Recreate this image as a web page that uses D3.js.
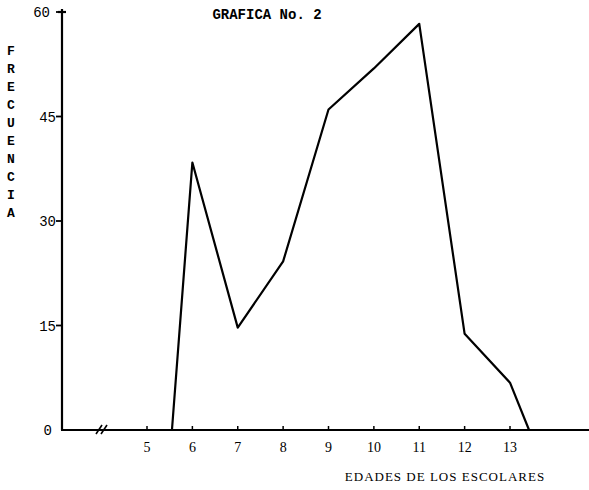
<!DOCTYPE html>
<html><head><meta charset="utf-8">
<script src="https://cdn.jsdelivr.net/npm/d3@7"></script>
<style>
html,body{margin:0;padding:0;background:#fff;}
svg{display:block;}
</style></head>
<body>
<script>
const ages = [5.55, 6, 7, 8, 9, 10, 11, 12, 13, 13.42];
const freq = [0, 38.4, 14.7, 24.2, 46, 51.9, 58.3, 13.8, 6.8, 0];
const xTicks = [5, 6, 7, 8, 9, 10, 11, 12, 13];
const yTicks = [0, 15, 30, 45, 60];
const yTitle = "FRECUENCIA";
const title = "GRAFICA No. 2";
const xTitle = "EDADES DE LOS ESCOLARES";

const W = 589, H = 490;
const svg = d3.select("body").append("svg").attr("width", W).attr("height", H);

const x = d3.scaleLinear().domain([5, 13]).range([147, 510]);
const y = d3.scaleLinear().domain([0, 60]).range([430, 12]);
const x0 = 62;

// y axis
svg.append("line").attr("x1", x0).attr("x2", x0).attr("y1", 9).attr("y2", y(0))
  .attr("stroke", "#000").attr("stroke-width", 2.2);
svg.selectAll(".yt").data(yTicks.filter(d => d > 0)).join("line")
  .attr("x1", x0 - 6).attr("x2", x0 + 1).attr("y1", d => y(d)).attr("y2", d => y(d))
  .attr("stroke", "#000").attr("stroke-width", 1.8);
svg.append("line").attr("x1", x0 - 4).attr("x2", x0 + 4).attr("y1", y(60)).attr("y2", y(60))
  .attr("stroke", "#000").attr("stroke-width", 2.2);
svg.selectAll(".yl").data(yTicks).join("text")
  .attr("x", d => d === 0 ? 52 : (d === 60 ? 50 : 56))
  .attr("y", d => y(d) + 5)
  .attr("text-anchor", "end")
  .attr("font-family", "Liberation Mono, monospace")
  .attr("font-size", 14)
  .text(d => d);

// x axis
svg.append("line").attr("x1", x0 - 1).attr("x2", W).attr("y1", y(0)).attr("y2", y(0))
  .attr("stroke", "#000").attr("stroke-width", 2.2);
svg.selectAll(".xt").data(xTicks).join("line")
  .attr("x1", d => x(d)).attr("x2", d => x(d)).attr("y1", y(0)).attr("y2", y(0) - 4)
  .attr("stroke", "#000").attr("stroke-width", 1.5);
svg.selectAll(".xl").data(xTicks).join("text")
  .attr("x", d => x(d)).attr("y", 452)
  .attr("text-anchor", "middle")
  .attr("font-family", "Liberation Serif, serif")
  .attr("font-size", 14)
  .text(d => d);

// axis break mark
[0, 5].forEach(o => {
  svg.append("line").attr("x1", 96 + o).attr("y1", y(0) + 4).attr("x2", 102 + o).attr("y2", y(0) - 5)
    .attr("stroke", "#000").attr("stroke-width", 1.6);
});

// data line
const pts = ages.map((a, i) => [a, freq[i]]);
svg.append("path").datum(pts)
  .attr("d", d3.line().x(d => x(d[0])).y(d => y(d[1])))
  .attr("fill", "none").attr("stroke", "#000").attr("stroke-width", 2.2)
  .attr("stroke-linejoin", "round");

// titles
svg.append("text").attr("x", 267).attr("y", 19).attr("text-anchor", "middle")
  .attr("font-family", "Liberation Mono, monospace").attr("font-size", 14)
  .attr("font-weight", "bold").text(title);

svg.selectAll(".yc").data(yTitle.split("")).join("text")
  .attr("x", 11).attr("y", (d, i) => 55 + i * 18)
  .attr("text-anchor", "middle")
  .attr("font-family", "Liberation Mono, monospace").attr("font-size", 13)
  .attr("font-weight", "bold")
  .text(d => d);

svg.append("text").attr("x", 445).attr("y", 481).attr("text-anchor", "middle")
  .attr("font-family", "Liberation Serif, serif").attr("font-size", 13)
  .attr("letter-spacing", 1)
  .text(xTitle);
</script>
</body></html>
